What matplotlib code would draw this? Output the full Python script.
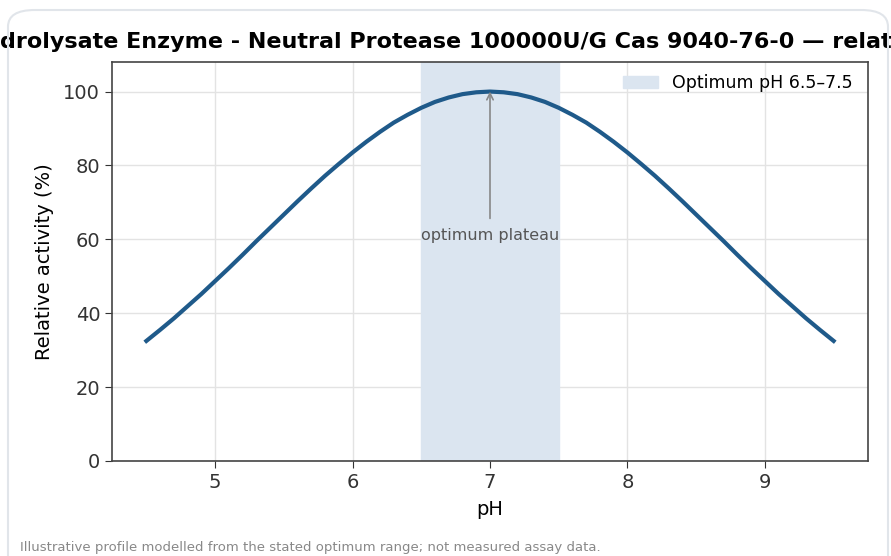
import matplotlib
matplotlib.use("Agg")
import matplotlib.pyplot as plt
from matplotlib.patches import FancyBboxPatch

# pH 4.5 .. 9.5 in steps of 0.1, relative activity
ph = [round(4.5 + 0.1 * i, 1) for i in range(51)]
activity = [32.5, 35.5, 38.6, 41.9, 45.2, 48.7, 52.2, 55.8, 59.5, 63.1,
            66.7, 70.3, 73.8, 77.2, 80.4, 83.5, 86.4, 89.1, 91.6, 93.7,
            95.6, 97.2, 98.4, 99.3, 99.8, 100.0, 99.8, 99.3, 98.4, 97.2,
            95.6, 93.7, 91.6, 89.1, 86.4, 83.5, 80.4, 77.2, 73.8, 70.3,
            66.7, 63.1, 59.5, 55.8, 52.2, 48.7, 45.2, 41.9, 38.6, 35.5, 32.5]
opt_low, opt_high = 6.5, 7.5
peak_ph, peak_val = 7.0, 100.0

title = "Hydrolysate Enzyme - Neutral Protease 100000U/G Cas 9040-76-0 \u2014 relative activity"

fig = plt.figure(figsize=(8.91, 5.56), dpi=100)
ax = fig.add_axes([112 / 891, 1 - 461 / 556, (868 - 112) / 891, (461 - 62) / 556])

# card border
card = FancyBboxPatch((8 / 891, -0.05), 880 / 891, 1.032, boxstyle="round,pad=0,rounding_size=0.03",
                      transform=fig.transFigure, fill=False, edgecolor="#e1e5ea", linewidth=1.5)
fig.patches.append(card)

ax.axvspan(opt_low, opt_high, color="#dbe5f0", label="Optimum pH 6.5\u20137.5", zorder=1)
ax.plot(ph, activity, color="#1f5a8a", linewidth=3, zorder=3)

ax.annotate("optimum plateau", xy=(peak_ph, peak_val), xytext=(peak_ph, 61),
            ha="center", va="center", fontsize=11.5, color="#555555",
            arrowprops=dict(arrowstyle="->", color="#888888", lw=1.2, shrinkA=5, shrinkB=0))

ax.set_xlim(4.25, 9.75)
ax.set_ylim(0, 108)
ax.set_xticks([5, 6, 7, 8, 9])
ax.set_yticks([0, 20, 40, 60, 80, 100])
ax.grid(True, color="#e3e3e3", linewidth=1, zorder=0)
ax.set_axisbelow(True)
ax.tick_params(labelsize=14, colors="#333333", length=5)
for s in ax.spines.values():
    s.set_color("#444444")
    s.set_linewidth(1.2)

ax.set_xlabel("pH", fontsize=14, labelpad=6)
ax.set_ylabel("Relative activity (%)", fontsize=14, labelpad=7)
ax.set_title(title, fontsize=16, fontweight="bold", pad=10, x=0.512)
ax.legend(loc="upper right", frameon=False, fontsize=12.5, bbox_to_anchor=(1, 1.008))

fig.text(20 / 891, 8 / 556, "Illustrative profile modelled from the stated optimum range; not measured assay data.",
         fontsize=9.5, color="#888888", ha="left", va="center")

fig.savefig("out.png", dpi=100)
